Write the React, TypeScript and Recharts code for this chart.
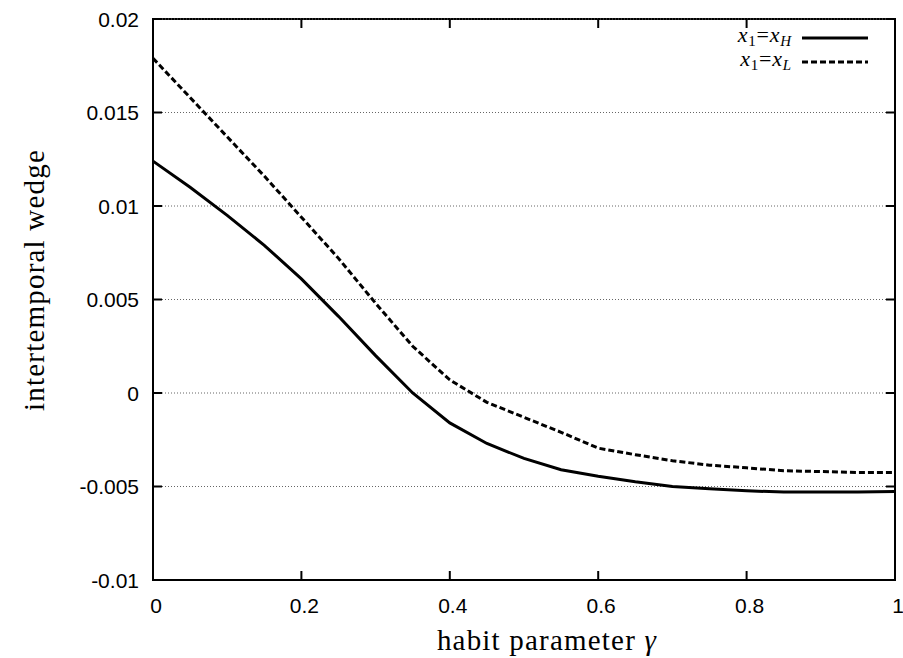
import { LineChart, Line, XAxis, YAxis, ReferenceLine, ReferenceArea, Customized } from 'recharts';

const gamma = [0, 0.05, 0.1, 0.15, 0.2, 0.25, 0.3, 0.35, 0.4, 0.45, 0.5, 0.55, 0.6, 0.65, 0.7, 0.75, 0.8, 0.85, 0.9, 0.95, 1];
const wedgeHigh = [0.0124, 0.011, 0.0095, 0.0079, 0.0061, 0.0041, 0.002, 0.0, -0.0016, -0.0027, -0.0035, -0.0041, -0.00445, -0.00475, -0.005, -0.00512, -0.00523, -0.0053, -0.0053, -0.0053, -0.00527];
const wedgeLow = [0.0179, 0.0158, 0.0137, 0.0116, 0.0094, 0.0072, 0.0048, 0.0025, 0.0007, -0.0005, -0.0013, -0.0021, -0.00295, -0.0033, -0.00362, -0.00386, -0.004, -0.00416, -0.0042, -0.00425, -0.00425];

const xTicks = [0, 0.2, 0.4, 0.6, 0.8, 1];
const yTicks = [-0.01, -0.005, 0, 0.005, 0.01, 0.015, 0.02];

const legendItems = [
  { key: 'high', sub: 'H', dash: undefined },
  { key: 'low', sub: 'L', dash: '6 3' },
];

const data = gamma.map((g, i) => ({ g, high: wedgeHigh[i], low: wedgeLow[i] }));

const W = 903;
const H = 658;
const M = { top: 19, right: 8, bottom: 0, left: 0 };
const PLOT_TOP = M.top;
const PLOT_RIGHT = W - M.right;

const sans = '"Liberation Sans", Arial, sans-serif';
const serif = '"Liberation Serif", "Times New Roman", serif';
const TICK = 9;

// gnuplot style: inward ticks on all four sides (mirrored on top/right)
const BottomTick = (p: any) => (
  <g>
    <line x1={p.x} x2={p.x} y1={p.y} y2={p.y - TICK} stroke="#000" strokeWidth={2} />
    <line x1={p.x} x2={p.x} y1={PLOT_TOP} y2={PLOT_TOP + TICK} stroke="#000" strokeWidth={2} />
    <text x={p.x + 3} y={p.y + 33} textAnchor="middle" fontFamily={sans} fontSize={21} fill="#000">
      {String(p.payload.value)}
    </text>
  </g>
);
const LeftTick = (p: any) => (
  <g>
    <line x1={p.x} x2={p.x + TICK} y1={p.y} y2={p.y} stroke="#000" strokeWidth={2} />
    <line x1={PLOT_RIGHT} x2={PLOT_RIGHT - TICK} y1={p.y} y2={p.y} stroke="#000" strokeWidth={2} />
    <text x={p.x - 14} y={p.y + 7.5} textAnchor="end" fontFamily={sans} fontSize={21} fill="#000">
      {String(p.payload.value)}
    </text>
  </g>
);

const YLabel = () => (
  <text x={44} y={280} transform="rotate(-90 44 280)" textAnchor="middle"
    fontFamily={serif} fontSize={29} letterSpacing={1.2} fill="#000">
    intertemporal wedge
  </text>
);

const XLabel = () => (
  <text x={547} y={650} textAnchor="middle" fontFamily={serif} fontSize={29} letterSpacing={1.2} fill="#000">
    habit parameter <tspan fontStyle="italic">γ</tspan>
  </text>
);

// legend drawn inside the chart svg
const LegendBox = () => (
  <g>
    {legendItems.map((it, i) => {
      const y = 38 + i * 24;
      return (
        <g key={it.key}>
          <text x={792} y={y + 4} textAnchor="end" fontFamily={serif} fontSize={22} letterSpacing={0.8} fill="#000">
            <tspan fontStyle="italic">x</tspan>
            <tspan fontSize={15} dy={4}>1</tspan>
            <tspan dy={-4}>=</tspan>
            <tspan fontStyle="italic">x</tspan>
            <tspan fontStyle="italic" fontSize={15} dy={4}>{it.sub}</tspan>
          </text>
          <line x1={802} x2={868} y1={y} y2={y} stroke="#000" strokeWidth={3} strokeDasharray={it.dash} />
        </g>
      );
    })}
  </g>
);

const frame = { stroke: '#000', strokeWidth: 2 };

export default function App() {
  return (
    <div style={{ position: 'absolute', left: 0, top: 0, width: W, height: H, background: '#fff' }}>
      <LineChart width={W} height={H} data={data} margin={M}>
        <XAxis dataKey="g" type="number" domain={[0, 1]} ticks={xTicks}
          height={78} tickSize={0} tickMargin={0} tick={<BottomTick />} tickLine={false}
          axisLine={frame} label={<XLabel />} />
        <YAxis type="number" domain={[-0.01, 0.02]} ticks={yTicks}
          width={153} tickSize={0} tickMargin={0} tick={<LeftTick />} tickLine={false}
          axisLine={frame} label={<YLabel />} />
        {yTicks.map((v) => (
          <ReferenceLine key={v} y={v} stroke="#666" strokeWidth={1} strokeDasharray="1 2" />
        ))}
        <ReferenceArea x1={0} x2={1} y1={-0.01} y2={0.02} fill="none" stroke="#000" strokeWidth={2} />
        <Line dataKey="high" type="linear" stroke="#000" strokeWidth={3}
          dot={false} activeDot={false} isAnimationActive={false} />
        <Line dataKey="low" type="linear" stroke="#000" strokeWidth={3}
          strokeDasharray="6 3" dot={false} activeDot={false} isAnimationActive={false} />
        <Customized component={LegendBox} />
      </LineChart>
    </div>
  );
}
